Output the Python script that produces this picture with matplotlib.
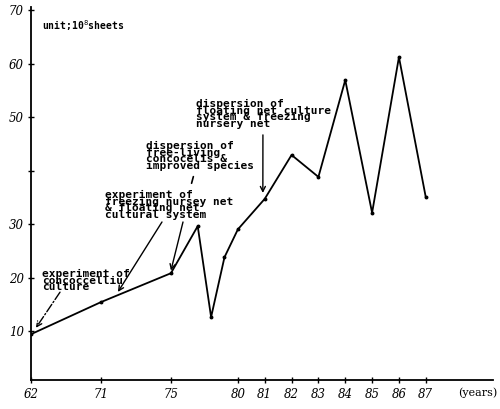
import numpy as np
import matplotlib
matplotlib.use('Agg')
import matplotlib.pyplot as plt

# 数据
years = [62, 71, 75, 77, 78, 79, 80, 81, 82, 83, 84, 85, 86, 87]
output = [9.4, 15.4, 20.8, 29.6, 12.6, 23.8, 29.0, 34.7, 42.9, 38.8, 56.9, 32.1, 61.2, 35.0]
xtick_years = [62, 71, 75, 80, 81, 82, 83, 84, 85, 86, 87]
ytick_vals = [10, 20, 30, 40, 50, 60, 70]
ytick_labels = ['10', '20', '30', '', '50', '60', '70']

# 手绘横轴: 不等距
brk_years = [62, 71, 75, 80, 87, 90]
brk_pos = [0, 70, 140, 207, 395, 475.7]

def fwd(x):
    return np.interp(x, brk_years, brk_pos)

def inv(x):
    return np.interp(x, brk_pos, brk_years)

mono = dict(family='DejaVu Sans Mono', weight='bold', fontsize=8, linespacing=0.58)
tickfont = dict(family='DejaVu Serif', style='italic', fontsize=8.5)

fig = plt.figure(figsize=(5, 4.09), dpi=100)
ax = fig.add_axes([0.062, 0.0709, 0.924, 0.9177])
ax.set_xscale('function', functions=(fwd, inv))
ax.set_xlim(62, 89.5)
ax.set_ylim(0.84, 71)

ax.plot(years, output, color='black', lw=1.3, marker='o', ms=1.8)

for s in ['top', 'right']:
    ax.spines[s].set_visible(False)
ax.spines['left'].set_bounds(0.84, 70.6)
ax.spines['left'].set_linewidth(1.3)
ax.spines['bottom'].set_linewidth(1.3)

ax.set_xticks(xtick_years)
ax.set_xticklabels([str(y) for y in xtick_years], **tickfont)
ax.set_yticks(ytick_vals)
ax.set_yticklabels(ytick_labels, **tickfont)
ax.xaxis.set_minor_locator(matplotlib.ticker.NullLocator())
ax.tick_params(direction='inout', length=4, width=1)
ax.tick_params(axis='x', pad=4)
ax.tick_params(axis='y', pad=3)

ax.text(0.967, -0.035, '(years)', transform=ax.transAxes, ha='center', va='center',
        family='DejaVu Serif', fontsize=8)
ax.text(0.024, 0.932, 'unit;10$^8$sheets', transform=ax.transAxes, ha='left',
        va='baseline', family='DejaVu Sans Mono', weight='bold', fontsize=7)

arr = dict(arrowstyle='->', color='black', lw=1, shrinkA=0, shrinkB=0, mutation_scale=9)

# 注释
ax.text(0.024, 0.296, 'experiment of\nconcoccelliu\nculture', transform=ax.transAxes,
        ha='left', va='top', **mono)
ax.annotate('', xy=(62.64, 10.6), xytext=(0.0628, 0.234), textcoords='axes fraction',
            arrowprops=dict(arr, linestyle='-.'))

ax.text(0.160, 0.506, 'experiment of\nfreezing nursey net\n& floating net\ncultural system',
        transform=ax.transAxes, ha='left', va='top', **mono)
ax.annotate('', xy=(71.97, 17.3), xytext=(0.2835, 0.421), textcoords='axes fraction',
            arrowprops=arr)
ax.annotate('', xy=(75.0, 21.3), xytext=(0.329, 0.421), textcoords='axes fraction',
            arrowprops=arr)

ax.text(0.249, 0.637, 'dispersion of\nfree-living\nconcocelis &\nimproved species',
        transform=ax.transAxes, ha='left', va='top', **mono)
ax.annotate('', xy=(0.346, 0.517), xycoords='axes fraction', xytext=(0.353, 0.549),
            textcoords='axes fraction', arrowprops=dict(arrowstyle='-', lw=1.2))

ax.text(0.357, 0.749, 'dispersion of\nfloating net culture\nsystem & freezing\nnursery net',
        transform=ax.transAxes, ha='left', va='top', **mono)
ax.annotate('', xy=(80.93, 35.8), xytext=(0.502, 0.653), textcoords='axes fraction',
            arrowprops=arr)

plt.savefig('out.png', dpi=100)
